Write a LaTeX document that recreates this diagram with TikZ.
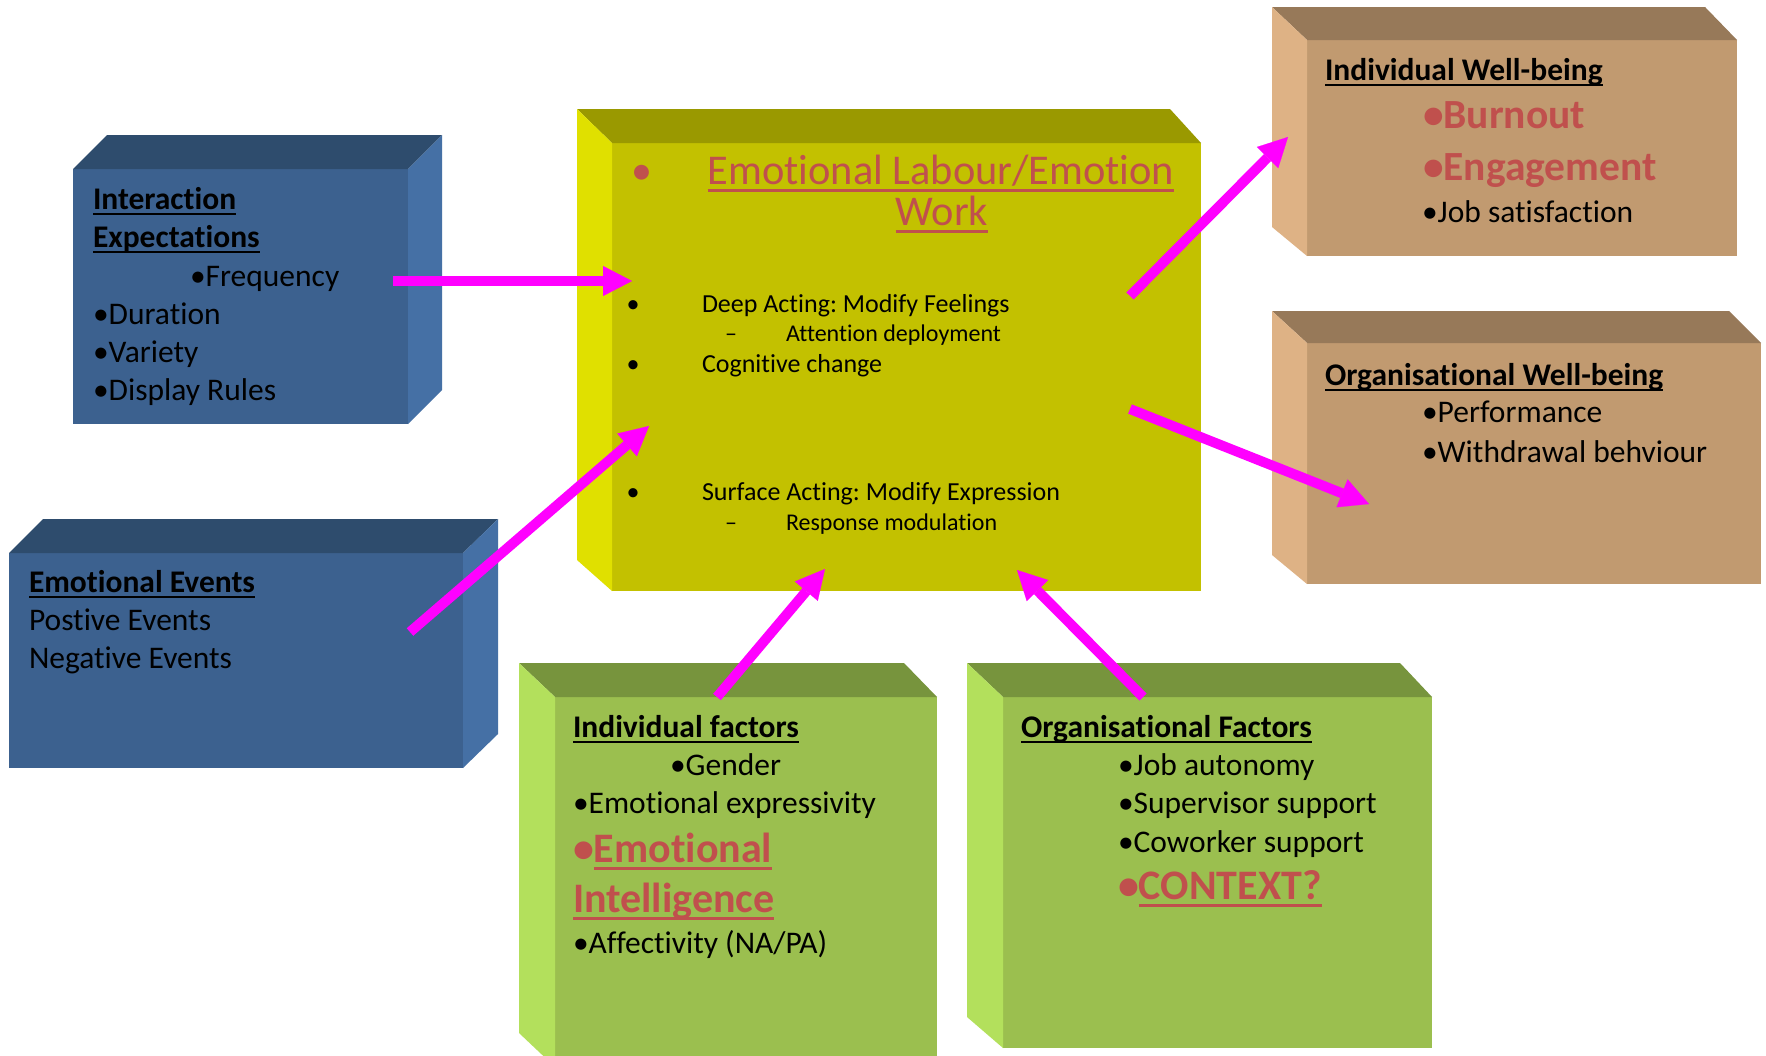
\documentclass[tikz,border=0pt]{standalone}
\usepackage{fontspec}
\setmainfont{Carlito}[Ligatures=NoCommon]
\usetikzlibrary{arrows.meta}
\frenchspacing
\definecolor{bluefront}{HTML}{3C618F}
\definecolor{bluetop}{HTML}{2E4C6D}
\definecolor{blueside}{HTML}{4570A5}
\definecolor{yelfront}{HTML}{C3C100}
\definecolor{yeltop}{HTML}{9A9900}
\definecolor{yelside}{HTML}{E0E000}
\definecolor{brnfront}{HTML}{C19A70}
\definecolor{brntop}{HTML}{977959}
\definecolor{brnside}{HTML}{DEB285}
\definecolor{grnfront}{HTML}{9BBF4F}
\definecolor{grntop}{HTML}{77943D}
\definecolor{grnside}{HTML}{B3E05C}
\definecolor{elred}{HTML}{C0504D}
\definecolor{arrmag}{HTML}{FF00FF}
\newcommand\fsz[1]{\fontsize{#1}{#1}\selectfont}
\newsavebox\ulbox
\newcommand\ulx[1]{\sbox\ulbox{#1}\rlap{\rule[-0.19em]{\wd\ulbox}{0.065em}}\usebox\ulbox}
\begin{document}
\begin{tikzpicture}[x=1pt,y=-1pt,
  face/.style={inner sep=0pt, outer sep=0pt, anchor=north west, draw=none},
  txt/.style={anchor=base west, inner sep=0pt, outer sep=0pt, font=\fsz{31.5}},
  hdr/.style={anchor=base west, inner sep=0pt, outer sep=0pt, font=\fsz{31.5}\bfseries},
  bigred/.style={anchor=base west, inner sep=0pt, outer sep=0pt, font=\fsz{41.5}\bfseries, text=elred},
  ctxt/.style={anchor=base west, inner sep=0pt, outer sep=0pt, font=\fsz{26}},
  csub/.style={anchor=base west, inner sep=0pt, outer sep=0pt, font=\fsz{24}},
  cbul/.style={anchor=base, inner sep=0pt, outer sep=0pt, font=\fsz{26}},
  arr/.style={draw=arrmag, line width=10pt, -{Triangle[length=29pt,width=30pt,line width=0.1pt]}}
]
\useasboundingbox (0,0) rectangle (1766,1055);
\fill[white] (0,0) rectangle (1766,1055);

% ---- Interaction Expectations (blue, depth to right)
\node[face, fill=bluefront, minimum width=335pt, minimum height=255pt] (ie) at (73,169) {};
\fill[bluetop] (ie.north west) -- ++(34,-34) -- ([shift={(34,-34)}]ie.north east) -- (ie.north east) -- cycle;
\fill[blueside] (ie.north east) -- ++(34,-34) -- ([shift={(34,-34)}]ie.south east) -- (ie.south east) -- cycle;

% ---- Emotional Events (blue)
\node[face, fill=bluefront, minimum width=454pt, minimum height=215pt] (ee) at (9,553) {};
\fill[bluetop] (ee.north west) -- ++(34,-34) -- ([shift={(35,-34)}]ee.north east) -- (ee.north east) -- cycle;
\fill[blueside] (ee.north east) -- ++(35,-34) -- ([shift={(35,-34)}]ee.south east) -- (ee.south east) -- cycle;

% ---- Emotional Labour (yellow, depth to left)
\node[face, fill=yelfront, minimum width=589pt, minimum height=448pt] (el) at (612,143) {};
\fill[yeltop] (el.north west) -- ++(-35,-34) -- ([shift={(-31,-34)}]el.north east) -- (el.north east) -- cycle;
\fill[yelside] (el.north west) -- ++(-35,-34) -- ([shift={(-35,-31)}]el.south west) -- (el.south west) -- cycle;

% ---- Individual Well-being (brown)
\node[face, fill=brnfront, minimum width=430pt, minimum height=216pt] (iwb) at (1307,40) {};
\fill[brntop] (iwb.north west) -- ++(-35,-33) -- ([shift={(-32,-33)}]iwb.north east) -- (iwb.north east) -- cycle;
\fill[brnside] (iwb.north west) -- ++(-35,-33) -- ([shift={(-35,-29)}]iwb.south west) -- (iwb.south west) -- cycle;

% ---- Organisational Well-being (brown)
\node[face, fill=brnfront, minimum width=454pt, minimum height=241pt] (owb) at (1307,343) {};
\fill[brntop] (owb.north west) -- ++(-35,-32) -- ([shift={(-32,-32)}]owb.north east) -- (owb.north east) -- cycle;
\fill[brnside] (owb.north west) -- ++(-35,-32) -- ([shift={(-35,-29)}]owb.south west) -- (owb.south west) -- cycle;

% ---- Individual factors (green)
\node[face, fill=grnfront, minimum width=382pt, minimum height=370pt] (if) at (555,697) {};
\fill[grntop] (if.north west) -- ++(-36,-34) -- ([shift={(-33,-34)}]if.north east) -- (if.north east) -- cycle;
\fill[grnside] (if.north west) -- ++(-36,-34) -- ([shift={(-36,-34)}]if.south west) -- (if.south west) -- cycle;

% ---- Organisational Factors (green)
\node[face, fill=grnfront, minimum width=429pt, minimum height=351pt] (of) at (1003,697) {};
\fill[grntop] (of.north west) -- ++(-36,-34) -- ([shift={(-32,-34)}]of.north east) -- (of.north east) -- cycle;
\fill[grnside] (of.north west) -- ++(-36,-34) -- ([shift={(-36,-31)}]of.south west) -- (of.south west) -- cycle;

% ---- texts: Interaction Expectations
\node[hdr] (ie1) at (93,209) {\ulx{Interaction}};
\node[hdr] (ie2) at (93,247) {\ulx{Expectations}};
\node[txt] (ie3) at (190,286) {•Frequency};
\node[txt] (ie4) at (93,324) {•Duration};
\node[txt] (ie5) at (93,362) {•Variety};
\node[txt] (ie6) at (93,400) {•Display Rules};

% ---- Emotional Events
\node[hdr] (ee1) at (29,592) {\ulx{Emotional Events}};
\node[txt] (ee2) at (29,630) {Postive Events};
\node[txt] (ee3) at (29,668) {Negative Events};

% ---- Emotional Labour
\node[anchor=base, inner sep=0pt, font=\fsz{42}, text=elred] (elb) at (642,184) {•};
\node[anchor=base, inner sep=0pt, font=\fsz{42.4}, text=elred] (el1) at (941,184) {\ulx{Emotional Labour/Emotion}};
\node[anchor=base, inner sep=0pt, font=\fsz{42.4}, text=elred] (el2) at (942,225) {\ulx{Work}};
\node[cbul] (b1) at (633,312) {•};
\node[ctxt] (el3) at (702,312) {Deep Acting: Modify Feelings};
\node[csub] (d1) at (725,341) {–};
\node[csub] (el4) at (786,341) {Attention deployment};
\node[cbul] (b2) at (633,372) {•};
\node[ctxt] (el5) at (702,372) {Cognitive change};
\node[cbul] (b3) at (633,500) {•};
\node[ctxt] (el6) at (702,500) {Surface Acting: Modify Expression};
\node[csub] (d2) at (725,530) {–};
\node[csub] (el7) at (786,530) {Response modulation};

% ---- Individual Well-being
\node[hdr] (iw1) at (1325,80) {\ulx{Individual Well-being}};
\node[bigred] (iw2) at (1423,128) {•Burnout};
\node[bigred] (iw3) at (1423,180) {•Engagement};
\node[txt] (iw4) at (1422,222) {•Job satisfaction};

% ---- Organisational Well-being
\node[hdr] (ow1) at (1325,385) {\ulx{Organisational Well-being}};
\node[txt] (ow2) at (1422,422) {•Performance};
\node[txt] (ow3) at (1422,462) {•Withdrawal behviour};

% ---- Individual factors
\node[hdr] (if1) at (573,737) {\ulx{Individual factors}};
\node[txt] (if2) at (670,775) {•Gender};
\node[txt] (if3) at (573,813) {•Emotional expressivity};
\node[bigred, font=\fsz{42}\bfseries] (if4) at (573,862) {•\ulx{Emotional}};
\node[bigred, font=\fsz{42}\bfseries] (if5) at (573,912) {\ulx{Intelligence}};
\node[txt] (if6) at (573,953) {•Affectivity (NA/PA)};

% ---- Organisational Factors
\node[hdr] (of1) at (1021,737) {\ulx{Organisational Factors}};
\node[txt] (of2) at (1118,775) {•Job autonomy};
\node[txt] (of3) at (1118,813) {•Supervisor support};
\node[txt] (of4) at (1118,852) {•Coworker support};
\node[bigred, font=\fsz{42}\bfseries] (of5) at (1118,899) {•\ulx{CONTEXT?}};

% ---- arrows
\coordinate (a1s) at (393,281);  \coordinate (a1e) at (632,281);
\coordinate (a2s) at (410,632);  \coordinate (a2e) at (649,426);
\coordinate (a3s) at (1130,296); \coordinate (a3e) at (1288,137);
\coordinate (a4s) at (1130,409); \coordinate (a4e) at (1369,504);
\coordinate (a5s) at (717,697);  \coordinate (a5e) at (825,569);
\coordinate (a6s) at (1143,697); \coordinate (a6e) at (1017,570);
\draw[arr] (a1s) -- (a1e);
\draw[arr] (a2s) -- (a2e);
\draw[arr] (a3s) -- (a3e);
\draw[arr] (a4s) -- (a4e);
\draw[arr] (a5s) -- (a5e);
\draw[arr] (a6s) -- (a6e);
\end{tikzpicture}
\end{document}
